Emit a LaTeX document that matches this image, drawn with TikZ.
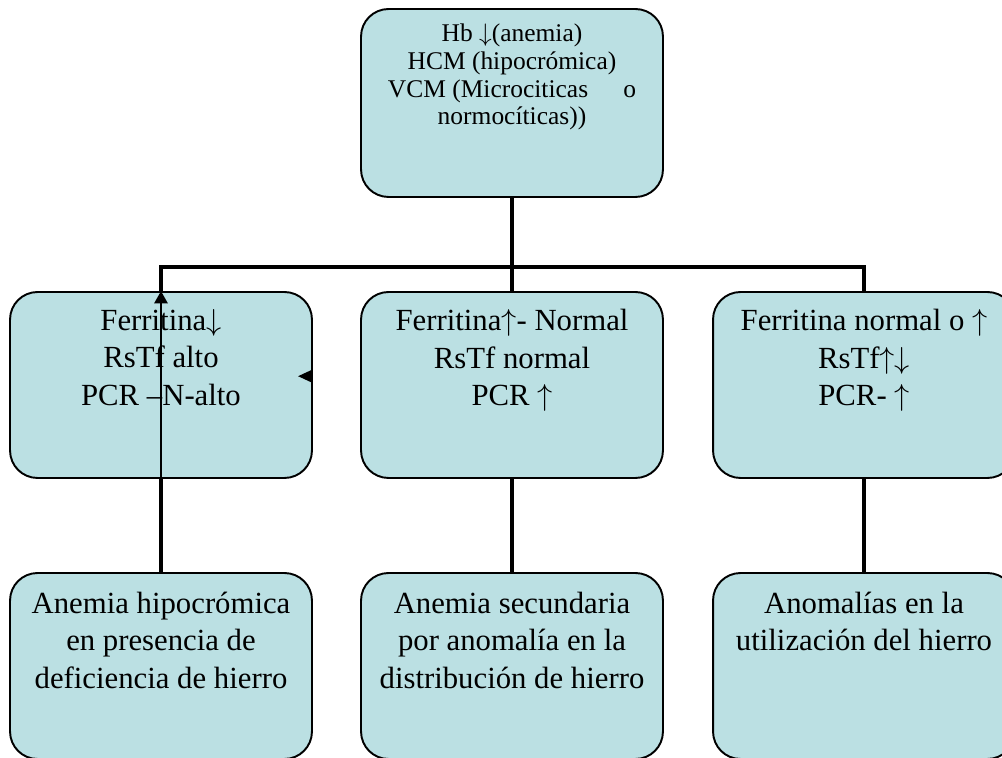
\documentclass[tikz,border=0pt]{standalone}
\usepackage{fontspec}
\setmainfont{Liberation Serif}
\usetikzlibrary{arrows.meta, positioning}
\definecolor{boxfill}{RGB}{187,224,227}

\begin{document}
\begin{tikzpicture}[
    x=0.02cm, y=0.02cm,
    % Box styles
    panel/.style={rectangle, rounded corners=0.55cm, draw=black, line width=1.1pt, fill=boxfill, minimum width=6.04cm, minimum height=3.72cm, inner sep=0pt},
    toppanel/.style={panel, minimum height=3.76cm},
    % Text styles
    paneltext/.style={anchor=north, align=center, inner sep=0pt, font=\fontsize{17.5}{21.5}\selectfont},
    toptext/.style={paneltext, font=\fontsize{14.5}{15.7}\selectfont},
    % Connector styles
    trunk/.style={line width=2.8pt},
    pointer/.style={-{Triangle[length=7pt, width=7.5pt]}, line width=1.2pt}
]
\clip (0,0) rectangle (1002,758);

% Top box
\node[toppanel] (hb) at (512,655) {};
\node[toptext] (hbtxt) at ([yshift=-9pt]hb.north) {Hb $\downarrow$(anemia)\\HCM (hipocrómica)\\VCM (Microciticas\hspace{20pt}o\\normocíticas))};

% Middle row
\node[panel] (ferrLow) at (161,373) {};
\node[panel] (ferrNorm) at (512,373) {};
\node[panel] (ferrHigh) at (864,373) {};
\node[paneltext] (ferrLowtxt) at ([yshift=-10pt]ferrLow.north) {Ferritina$\downarrow$\\RsTf alto\\PCR –N-alto};
\node[paneltext] (ferrNormtxt) at ([yshift=-10pt]ferrNorm.north) {Ferritina$\uparrow$- Normal\\RsTf normal\\PCR $\uparrow$};
\node[paneltext] (ferrHightxt) at ([yshift=-10pt]ferrHigh.north) {Ferritina normal o $\uparrow$\\RsTf$\uparrow\downarrow$\\PCR- $\uparrow$};

% Bottom row
\node[panel] (defic) at (161,92) {};
\node[panel] (distrib) at (512,92) {};
\node[panel] (utiliz) at (864,92) {};
\node[paneltext] (defictxt) at ([yshift=-11pt]defic.north) {Anemia hipocrómica\\en presencia de\\deficiencia de hierro};
\node[paneltext] (distribtxt) at ([yshift=-11pt]distrib.north) {Anemia secundaria\\por anomalía en la\\distribución de hierro};
\node[paneltext] (utiliztxt) at ([yshift=-11pt]utiliz.north) {Anomalías en la\\utilización del hierro};

% Tree connectors
\coordinate (bar) at (512,491);
\draw[trunk] (hb.south) -- (ferrNorm.north);
\draw[trunk] (ferrLow.north) |- (bar) -| (ferrHigh.north);
\draw[trunk] (ferrLow.south) -- (defic.north);
\draw[trunk] (ferrNorm.south) -- (distrib.north);
\draw[trunk] (ferrHigh.south) -- (utiliz.north);

% Thin arrows
\draw[pointer] (defic.north) -- (ferrLow.north);
\coordinate (stub) at ([xshift=-8.5pt, yshift=5pt]ferrLow.east);
\draw[pointer, -{Triangle[length=8.5pt, width=7.5pt]}] ([yshift=5pt]ferrLow.east) -- (stub);

\end{tikzpicture}
\end{document}
